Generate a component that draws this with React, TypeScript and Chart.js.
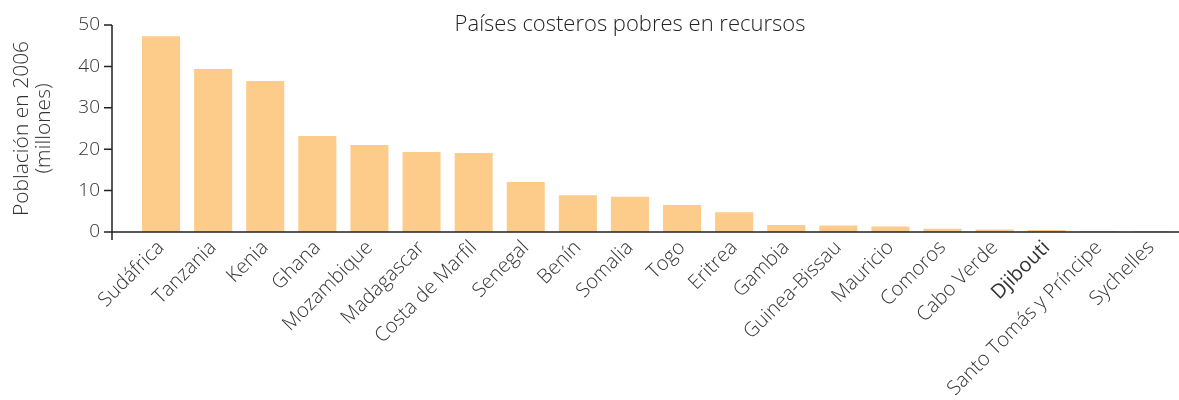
import React, { useEffect, useRef } from "react";
import { Chart, registerables } from "chart.js";

Chart.register(...registerables);

const categories = [
  "Sudáfrica", "Tanzania", "Kenia", "Ghana", "Mozambique", "Madagascar",
  "Costa de Marfil", "Senegal", "Benín", "Somalia", "Togo", "Eritrea",
  "Gambia", "Guinea-Bissau", "Mauricio", "Comoros", "Cabo Verde",
  "Djibouti", "Santo Tomás y Príncipe", "Sychelles",
];
const population = [
  47.3, 39.4, 36.5, 23.2, 21.0, 19.3, 19.1, 12.1, 8.9, 8.5, 6.5, 4.8,
  1.7, 1.6, 1.3, 0.8, 0.6, 0.5, 0.2, 0.1,
];
const barColors = [
  "#fdcb8a", "#fdcb8a", "#fdcb8a", "#fdcb8a", "#fdcb8a", "#fdcb8a", "#fdcb8a",
  "#fdcb8a", "#fdcb8a", "#fdcb8a", "#fdcb8a", "#fdcb8a", "#fdcb8a", "#fdcb8a",
  "#fdcb8a", "#fdcb8a", "#fdcb8a", "#fdcb8a", "#ddd5cb", "#ddd5cb",
];
const yTicks = [0, 10, 20, 30, 40, 50];
const chartTitle = "Países costeros pobres en recursos";
const yTitle = ["Población en 2006", "(millones)"];
const boldLabel = "Djibouti";

const FONT = "'Open Sans', 'Noto Sans', sans-serif";

const axesPlugin = {
  id: "customAxes",
  afterDraw(chart: any) {
    const { ctx, chartArea } = chart;
    const ys = chart.scales.y;
    const axisX = chartArea.left - 23;
    const y0 = ys.getPixelForValue(0);
    const yTop = ys.getPixelForValue(yTicks[yTicks.length - 1]);
    ctx.save();
    ctx.strokeStyle = "#222";
    ctx.lineWidth = 1.5;
    ctx.beginPath();
    ctx.moveTo(axisX, yTop);
    ctx.lineTo(axisX, y0 + 8);
    yTicks.forEach((t) => {
      const py = ys.getPixelForValue(t);
      ctx.moveTo(axisX - 8, py);
      ctx.lineTo(axisX, py);
    });
    ctx.moveTo(axisX - 8, y0);
    ctx.lineTo(chart.width, y0);
    ctx.stroke();
    ctx.fillStyle = "#222";
    ctx.font = `300 22px ${FONT}`;
    ctx.textAlign = "center";
    ctx.textBaseline = "alphabetic";
    ctx.fillText(chartTitle, 630, 31);
    ctx.restore();
  },
};

export default function App() {
  const ref = useRef<HTMLCanvasElement>(null);
  useEffect(() => {
    document.body.style.margin = "0";
    const chart = new Chart(ref.current!, {
      type: "bar",
      data: {
        labels: categories,
        datasets: [
          {
            data: population,
            backgroundColor: barColors,
            barPercentage: 0.73,
            categoryPercentage: 1,
          },
        ],
      },
      options: {
        animation: false,
        responsive: false,
        layout: { padding: { top: 25, right: 2, left: 0, bottom: 0 } },
        plugins: { legend: { display: false }, tooltip: { enabled: false }, title: { display: false } },
        scales: {
          x: {
            grid: { display: false, drawTicks: false },
            border: { display: false },
            ticks: {
              minRotation: 45,
              maxRotation: 45,
              autoSkip: false,
              padding: 4,
              labelOffset: 0,
              color: "#333",
              font: (c: any) => ({
                family: FONT,
                size: 20,
                weight: categories[c.index] === boldLabel ? "500" : "300",
              }),
            },
            afterFit: (s: any) => {
              s.height = 168;
              s.paddingLeft = 0;
              s.paddingRight = 0;
            },
          },
          y: {
            min: 0,
            max: 50,
            grid: { display: false, drawTicks: false },
            border: { display: false },
            ticks: {
              stepSize: 10,
              padding: 35,
              color: "#333",
              font: { family: FONT, size: 19, weight: "300" },
            },
            title: {
              display: true,
              text: yTitle,
              color: "#333",
              font: { family: FONT, size: 21, weight: "300", lineHeight: 1.05 },
              padding: { top: 11, bottom: 0 },
            },
            afterFit: (s: any) => {
              s.width = 135;
              s.paddingTop = 0;
              s.paddingBottom = 0;
            },
          },
        },
      },
      plugins: [axesPlugin],
    });
    return () => chart.destroy();
  }, []);
  return <canvas ref={ref} width={1179} height={400} style={{ display: "block" }} />;
}
